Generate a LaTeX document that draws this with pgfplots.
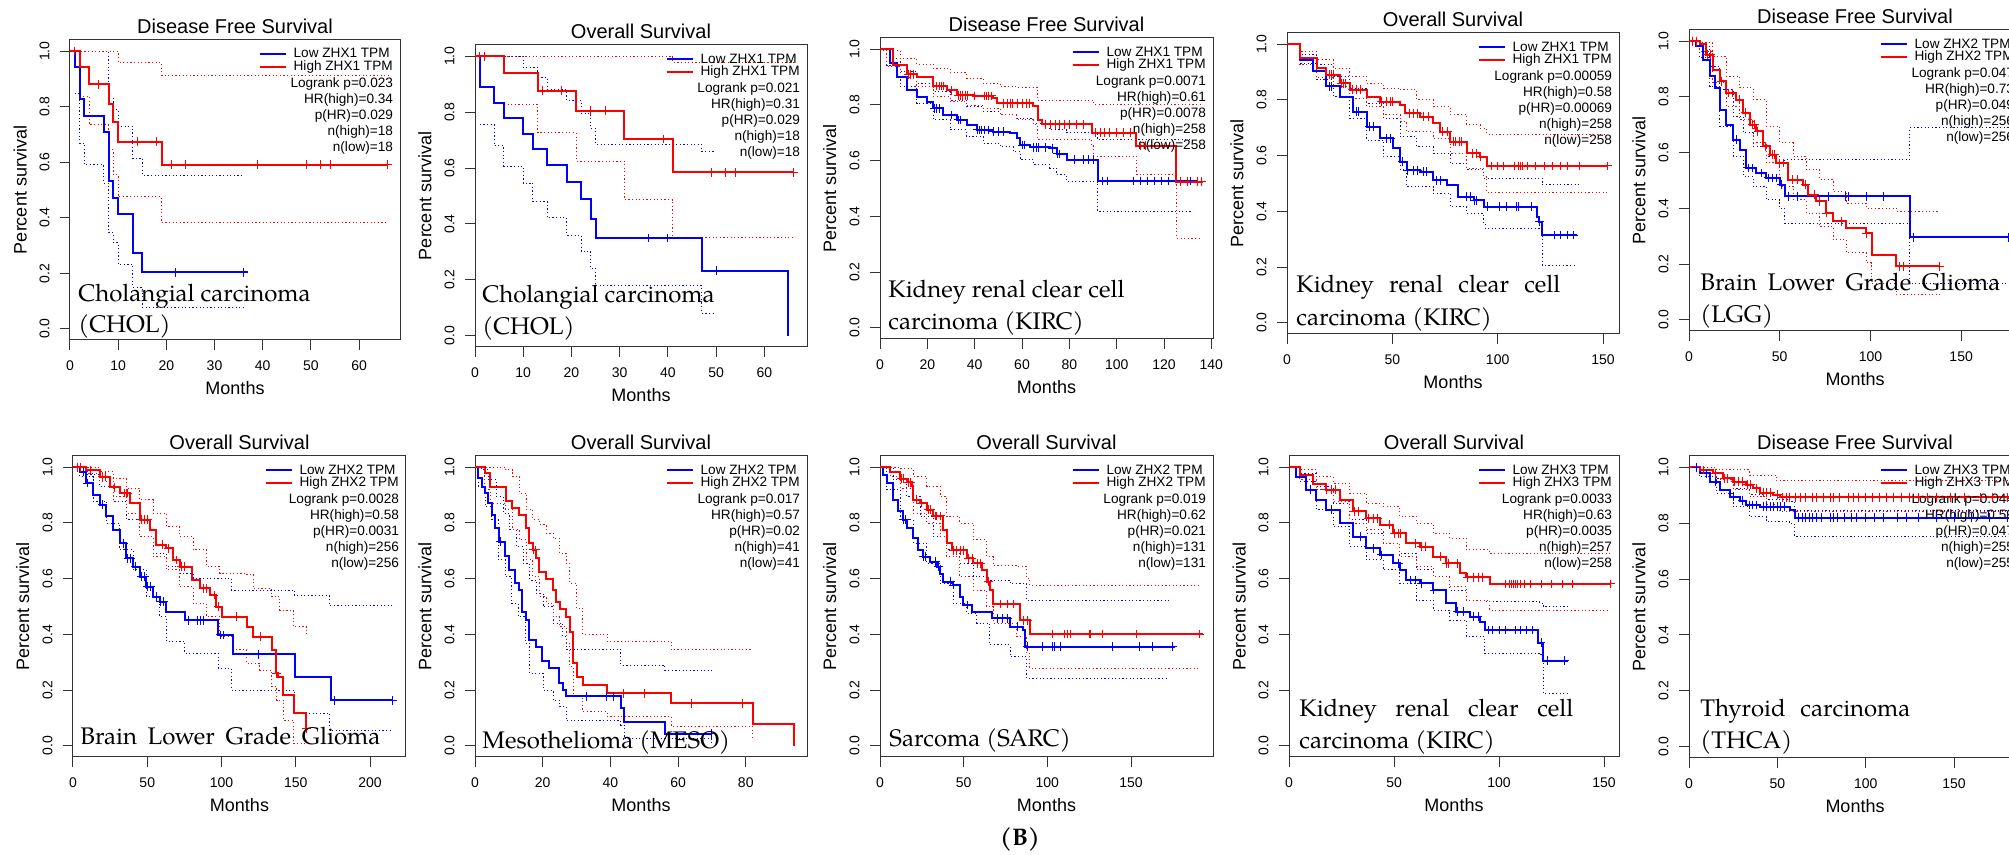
\documentclass[border=0pt]{standalone}
\usepackage{fontspec}
\setmainfont{Liberation Sans}
\newfontfamily\pal{texgyrepagella}[Extension=.otf, UprightFont=*-regular, BoldFont=*-bold]
\usepackage{pgfplots}
\pgfplotsset{compat=1.18}

\pgfplotsset{
  km/.style={
    scale only axis, anchor=south west,
    xmin=0, ymin=-0.04, ymax=1.04,
    ytick={0,0.2,0.4,0.6,0.8,1},
    /pgf/number format/assume math mode=true,
    yticklabel={\pgfmathprintnumber[fixed,fixed zerofill,precision=1]{\tick}},
    tick pos=left, tick align=outside, major tick length=5pt,
    axis line style={black!80, line width=0.5pt},
    every tick/.style={black!80, line width=0.5pt},
    tick label style={font=\fontsize{7}{8}\selectfont, inner sep=0pt},
    yticklabel style={rotate=90, anchor=south},
    xticklabel style={anchor=north},
    xticklabel shift=5pt, yticklabel shift=5pt,
    xlabel={Months}, ylabel={Percent survival},
    label style={font=\fontsize{9}{10}\selectfont},
    xlabel style={at={(axis description cs:0.5,0)}, anchor=center, yshift=-24pt},
    ylabel style={at={(axis description cs:-0.151,0.5)}, anchor=center},
    title style={at={(axis description cs:0.5,1)}, anchor=base, yshift=-2.6pt, font=\fontsize{10}{12}\selectfont},
    legend style={draw=none, fill=none, at={(0.979,0.974)}, anchor=north east, inner sep=0pt,
      font=\fontsize{6.8}{7}\selectfont, row sep=0pt,
      nodes={inner sep=0pt, text height=4.9pt, text depth=1.3pt},
      /tikz/every odd column/.append style={column sep=3.5pt}},
    legend cell align=left,
    legend image code/.code={\draw[#1, line width=1pt] (0pt,0pt) -- (13pt,0pt);},
  },
  lo/.style={blue, line width=1pt, const plot},
  hi/.style={red, line width=1pt, const plot},
  clo/.style={blue, line width=0.5pt, const plot, dash pattern=on 0.6pt off 1.2pt, forget plot},
  chi/.style={red, line width=0.5pt, const plot, dash pattern=on 0.6pt off 1.2pt, forget plot},
  mlo/.style={blue, only marks, mark=+, mark size=2.2pt, mark options={line width=0.5pt}, forget plot},
  mhi/.style={red, only marks, mark=+, mark size=2.2pt, mark options={line width=0.5pt}, forget plot},
}
\tikzset{
  stats/.style={anchor=north east, align=right, font=\fontsize{6.8}{8}\selectfont, inner sep=0pt},
  lab/.style={anchor=base west, inner sep=0pt, font=\pal\fontsize{12}{14}\selectfont},
}

\begin{document}
\begin{tikzpicture}
\useasboundingbox (0,0) rectangle (1004.5pt,427.5pt);
\clip (0,0) rectangle (1004.5pt,427.5pt);

% ---------- row 1 ----------
% CHOL DFS, ZHX1
\begin{axis}[km, at={(35pt,257.5pt)}, width=165pt, height=150pt, xmax=68.5,
  xtick={0,10,...,60}, title={Disease Free Survival},
  legend entries={Low ZHX1 TPM, High ZHX1 TPM}]
\addplot[clo] coordinates {(0,1)(8,0.83)(9,0.79)(10,0.73)(13,0.615)(15,0.553)(36,0.553)};
\addplot[clo] coordinates {(1,0.847)(2,0.668)(3,0.59)(7,0.525)(8,0.346)(9,0.31)(10,0.233)(13,0.15)(15,0.078)(36,0.078)};
\addplot[chi] coordinates {(0,1)(10,0.958)(19,0.913)(66,0.913)};
\addplot[chi] coordinates {(2,0.838)(4,0.734)(8,0.644)(9,0.555)(10,0.475)(19,0.382)(66,0.382)};
\addplot[lo] coordinates {(0,1)(1,0.944)(2,0.827)(3,0.766)(7,0.708)(8,0.531)(9,0.47)(10,0.412)(13,0.274)(15,0.203)(37,0.203)};
\addplot[hi] coordinates {(0,1)(2,0.944)(4,0.88)(8,0.81)(9,0.743)(10,0.674)(19,0.591)(66,0.591)};
\addplot[mlo] coordinates {(22,0.203)(36,0.203)};
\addplot[mhi] coordinates {(1,1)(6,0.88)(14,0.674)(18,0.674)(21,0.591)(24,0.591)(39,0.591)(49,0.591)(52,0.591)(54,0.591)(66,0.591)};
\node[stats] at (axis description cs:0.98,0.877) {Logrank p=0.023\\HR(high)=0.34\\p(HR)=0.029\\n(high)=18\\n(low)=18};
\end{axis}

% CHOL OS, ZHX1
\begin{axis}[km, at={(237.5pt,254pt)}, width=166pt, height=151pt, xmax=68.85,
  xtick={0,10,...,60}, title={Overall Survival},
  legend entries={Low ZHX1 TPM, High ZHX1 TPM}]
\addplot[clo] coordinates {(1,1)(10,0.96)(13,0.924)(15,0.88)(19,0.842)(22,0.795)(24,0.742)(25,0.685)(47,0.66)(49.5,0.66)};
\addplot[clo] coordinates {(1,0.755)(4,0.679)(6,0.607)(10,0.546)(12,0.48)(15,0.422)(19,0.36)(22,0.302)(24,0.241)(25,0.179)(47,0.081)(49.5,0.081)};
\addplot[chi] coordinates {(0,1)(41,0.977)(66,0.977)};
\addplot[chi] coordinates {(6,0.827)(13,0.726)(21,0.624)(31,0.487)(41,0.35)(66,0.35)};
\addplot[lo] coordinates {(0,1)(1,0.888)(4,0.834)(6,0.778)(10,0.722)(12,0.667)(15,0.612)(19,0.55)(22,0.489)(24,0.417)(25,0.35)(47,0.233)(65,0)};
\addplot[hi] coordinates {(0,1)(6,0.94)(13,0.876)(21,0.805)(31,0.704)(41,0.584)(66,0.584)};
\addplot[mlo] coordinates {(36,0.35)(40,0.35)(50,0.233)};
\addplot[mhi] coordinates {(1,1)(2,1)(14,0.876)(18,0.876)(24,0.805)(27,0.805)(39,0.704)(49,0.584)(52,0.584)(54,0.584)(66,0.584)};
\node[stats] at (axis description cs:0.98,0.877) {Logrank p=0.021\\HR(high)=0.31\\p(HR)=0.029\\n(high)=18\\n(low)=18};
\end{axis}

% KIRC DFS, ZHX1
\begin{axis}[km, at={(440pt,258pt)}, width=166.5pt, height=150.5pt, xmax=140.7,
  xtick={0,20,...,140}, title={Disease Free Survival},
  legend entries={Low ZHX1 TPM, High ZHX1 TPM}]
\addplot[clo] coordinates {(0,1)(2.8,0.967)(8.5,0.919)(15.5,0.877)(22.5,0.847)(29.6,0.817)(36.6,0.794)(43.7,0.776)(50.7,0.764)(57.7,0.752)(64.8,0.734)(71.8,0.71)(78.9,0.70)(92,0.674)(131.7,0.674)};
\addplot[clo] coordinates {(0,1)(2.8,0.943)(8.5,0.865)(15.5,0.805)(22.5,0.746)(29.6,0.71)(36.6,0.686)(43.7,0.662)(50.7,0.65)(56.3,0.632)(59.2,0.603)(64.8,0.585)(71.8,0.573)(74.6,0.549)(78.9,0.525)(92,0.418)(131.7,0.418)};
\addplot[chi] coordinates {(0,1)(1.4,0.996)(8.5,0.967)(15.5,0.946)(22.5,0.931)(29.6,0.915)(36.6,0.895)(43.7,0.877)(50.7,0.865)(57.7,0.863)(66.5,0.817)(90.1,0.803)(135.2,0.803)};
\addplot[chi] coordinates {(0,1)(2.8,0.937)(8.5,0.899)(15.5,0.865)(22.5,0.829)(29.6,0.811)(36.6,0.796)(43.7,0.788)(50.7,0.764)(57.7,0.746)(64.8,0.728)(66.5,0.677)(89.4,0.656)(90.1,0.615)(108.5,0.549)(125,0.543)(125.4,0.322)(135.2,0.322)};
\addplot[lo] coordinates {(0,1)(4.2,0.949)(7,0.90)(11.3,0.853)(15.5,0.83)(19.7,0.811)(22.5,0.788)(26.8,0.764)(32.4,0.746)(36.6,0.728)(40.8,0.71)(47.9,0.704)(54.9,0.698)(57.7,0.68)(59,0.656)(63.4,0.648)(71.8,0.644)(74.6,0.624)(78.9,0.603)(92,0.527)(133.8,0.527)};
\addplot[hi] coordinates {(0,1)(5.6,0.943)(11.3,0.91)(15.5,0.899)(22.5,0.868)(28.2,0.853)(32.4,0.835)(39.4,0.832)(47.9,0.823)(49.3,0.805)(64.8,0.796)(66.6,0.746)(68.3,0.73)(89.4,0.70)(108,0.653)(125,0.525)(136.6,0.525)};
\addplot[mlo] coordinates {(23,0.788)(24,0.788)(25,0.788)(30,0.764)(33,0.746)(34,0.746)(41,0.71)(42,0.71)(43,0.71)(44,0.71)(46,0.71)(48,0.704)(50,0.704)(52,0.704)(60,0.656)(61,0.656)(65,0.648)(66,0.648)(67,0.648)(70,0.648)(73,0.644)(75,0.624)(76,0.624)(82,0.603)(86,0.603)(88,0.603)(90,0.603)(94,0.527)(96,0.527)(107,0.527)(110,0.527)(113,0.527)(116,0.527)(119,0.527)(122,0.527)(127,0.527)(131,0.527)};
\addplot[mhi] coordinates {(12,0.91)(13,0.91)(14,0.91)(24,0.868)(25,0.868)(26,0.868)(27,0.868)(30,0.853)(33,0.835)(34,0.835)(35,0.835)(36,0.835)(37,0.835)(40,0.832)(44,0.832)(45,0.832)(46,0.832)(47,0.832)(52,0.805)(54,0.805)(55,0.805)(56,0.805)(58,0.805)(60,0.805)(62,0.805)(63,0.805)(70,0.73)(72,0.73)(74,0.73)(76,0.73)(78,0.73)(80,0.73)(83,0.73)(86,0.73)(91,0.70)(93,0.70)(95,0.70)(97,0.70)(100,0.70)(103,0.70)(106,0.70)(110,0.653)(112,0.653)(127,0.525)(130,0.525)(134,0.525)(136,0.525)};
\node[stats] at (axis description cs:0.98,0.877) {Logrank p=0.0071\\HR(high)=0.61\\p(HR)=0.0078\\n(high)=258\\n(low)=258};
\end{axis}

% KIRC OS, ZHX1
\begin{axis}[km, at={(643.5pt,260.5pt)}, width=166pt, height=150.5pt, xmax=157.6,
  xtick={0,50,100,150}, title={Overall Survival},
  legend entries={Low ZHX1 TPM, High ZHX1 TPM}]
\addplot[clo] coordinates {(0,1)(6,0.962)(14,0.926)(21.9,0.884)(29.8,0.842)(37.8,0.788)(45.7,0.734)(53.7,0.668)(61.6,0.632)(69.5,0.608)(77.5,0.572)(85.4,0.549)(93.3,0.519)(121.1,0.495)(139.4,0.495)};
\addplot[clo] coordinates {(0,1)(6,0.932)(14,0.872)(21.9,0.812)(29.8,0.734)(37.8,0.656)(45.7,0.596)(53.7,0.549)(56.8,0.489)(69.5,0.465)(77.5,0.417)(85.4,0.393)(93.3,0.357)(94.1,0.339)(121.1,0.207)(136.2,0.207)};
\addplot[chi] coordinates {(0,1)(6,0.974)(14,0.944)(21.9,0.914)(29.8,0.884)(37.8,0.86)(45.7,0.842)(53.7,0.836)(61.6,0.80)(69.5,0.776)(77.5,0.746)(85.4,0.71)(91.7,0.698)(94.9,0.677)(152,0.677)};
\addplot[chi] coordinates {(0,1)(6,0.926)(14,0.879)(21.9,0.848)(29.8,0.806)(37.8,0.776)(45.7,0.746)(53.7,0.722)(56.8,0.686)(69.5,0.662)(77.5,0.608)(85.4,0.554)(93.3,0.525)(94.9,0.467)(152,0.467)};
\addplot[lo] coordinates {(0,1)(6,0.944)(12.4,0.902)(18.7,0.848)(25.1,0.812)(31.4,0.758)(37.8,0.704)(44.1,0.662)(50.5,0.626)(53.7,0.578)(56.8,0.548)(63.2,0.542)(69.5,0.512)(75.9,0.495)(81.4,0.453)(88.6,0.44)(93.3,0.417)(118.7,0.381)(119.5,0.363)(121,0.315)(137.8,0.315)};
\addplot[hi] coordinates {(0,1)(6,0.95)(14,0.914)(18.7,0.89)(25.1,0.86)(29.8,0.836)(37.8,0.812)(44.1,0.794)(53.7,0.782)(56,0.752)(63.2,0.74)(69.5,0.716)(72.7,0.686)(77.5,0.65)(85.4,0.608)(91.7,0.596)(94.9,0.563)(152,0.563)};
\addplot[mlo] coordinates {(20,0.848)(21,0.848)(33,0.758)(34,0.758)(39,0.704)(41,0.704)(47,0.662)(49,0.662)(55,0.578)(57,0.548)(60,0.548)(62,0.548)(65,0.542)(66,0.542)(71,0.512)(73,0.512)(85,0.453)(87,0.453)(89,0.44)(90,0.44)(95,0.417)(101,0.417)(104,0.417)(109,0.417)(110,0.417)(116,0.417)(120,0.363)(127,0.315)(130,0.315)(133,0.315)(136,0.315)};
\addplot[mhi] coordinates {(20,0.89)(21,0.89)(22,0.89)(26,0.86)(27,0.86)(28,0.86)(31,0.836)(33,0.836)(35,0.836)(45,0.794)(47,0.794)(49,0.794)(50,0.794)(58,0.752)(60,0.752)(62,0.752)(65,0.74)(67,0.74)(74,0.686)(76,0.686)(79,0.65)(80,0.65)(82,0.65)(83,0.65)(88,0.608)(90,0.608)(92,0.596)(97,0.563)(100,0.563)(103,0.563)(108,0.563)(110,0.563)(111,0.563)(112,0.563)(114,0.563)(118,0.563)(122,0.563)(126,0.563)(130,0.563)(133,0.563)(139,0.563)(152,0.563)};
\node[stats] at (axis description cs:0.98,0.877) {Logrank p=0.00059\\HR(high)=0.58\\p(HR)=0.00069\\n(high)=258\\n(low)=258};
\end{axis}

% LGG DFS, ZHX2
\begin{axis}[km, at={(844.5pt,262pt)}, width=166pt, height=150.5pt, xmax=183,
  xtick={0,50,100,150}, title={Disease Free Survival},
  legend entries={Low ZHX2 TPM, High ZHX2 TPM}]
\addplot[clo] coordinates {(0,1)(5.9,0.982)(11.4,0.91)(16.9,0.826)(24.3,0.731)(29.8,0.671)(35.3,0.623)(42.6,0.587)(50,0.563)(52.8,0.575)(121.7,0.689)(178,0.689)};
\addplot[clo] coordinates {(0,1)(5.9,0.94)(11.4,0.838)(16.9,0.695)(24.3,0.587)(29.8,0.515)(35.3,0.479)(42.6,0.431)(50,0.401)(52.8,0.347)(121.7,0.132)(178,0.132)};
\addplot[chi] coordinates {(0,1)(5.9,0.994)(13.2,0.946)(20.6,0.874)(27.9,0.832)(35.3,0.79)(42.6,0.695)(50,0.635)(57.4,0.587)(64.7,0.539)(72.1,0.503)(79.4,0.461)(86.8,0.419)(97.8,0.401)(114.3,0.389)(138.2,0.389)};
\addplot[chi] coordinates {(0,1)(5.9,0.964)(13.2,0.85)(20.6,0.766)(27.9,0.719)(35.3,0.635)(42.6,0.563)(50,0.479)(57.4,0.431)(64.7,0.383)(72.1,0.335)(79.4,0.287)(86.8,0.24)(97.8,0.204)(100.6,0.132)(114.3,0.09)(138.2,0.09)};
\addplot[lo] coordinates {(0,1)(4,0.982)(7.7,0.934)(11.4,0.874)(14.2,0.832)(16.9,0.754)(20.6,0.70)(24.3,0.647)(27.9,0.611)(31.6,0.545)(37.1,0.527)(42.6,0.509)(50,0.485)(52.8,0.443)(121.7,0.296)(180,0.296)};
\addplot[hi] coordinates {(0,1)(5.9,0.988)(9.6,0.952)(13.2,0.898)(16.9,0.856)(20.6,0.814)(26.1,0.79)(29.8,0.743)(33.5,0.70)(37.1,0.677)(40.8,0.623)(44.5,0.593)(48.2,0.563)(54.6,0.503)(62.9,0.485)(65.6,0.449)(70.2,0.425)(75.7,0.383)(79.4,0.353)(86.8,0.329)(97.8,0.311)(100.6,0.234)(114.3,0.192)(138.2,0.192)};
\addplot[mlo] coordinates {(26,0.647)(33,0.545)(35,0.545)(40,0.527)(44,0.509)(46,0.509)(48,0.509)(51,0.485)(55,0.443)(60,0.443)(77,0.443)(86,0.443)(88,0.443)(98,0.443)(107,0.443)(124,0.296)(176,0.296)};
\addplot[mhi] coordinates {(2,1)(4,1)(10,0.952)(12,0.952)(18,0.856)(22,0.814)(24,0.814)(28,0.79)(31,0.743)(35,0.70)(36,0.70)(38,0.677)(42,0.623)(46,0.593)(47,0.593)(50,0.563)(52,0.563)(57,0.503)(60,0.503)(64,0.485)(69,0.449)(72,0.425)(76,0.383)(84,0.353)(98,0.311)(116,0.192)(118,0.192)(138,0.192)};
\node[stats] at (axis description cs:0.98,0.877) {Logrank p=0.047\\HR(high)=0.73\\p(HR)=0.049\\n(high)=256\\n(low)=256};
\end{axis}

% ---------- row 2 ----------
% LGG OS, ZHX2
\begin{axis}[km, at={(36.5pt,49pt)}, width=166.5pt, height=150.5pt, xmax=224.2,
  xtick={0,50,...,200}, title={Overall Survival},
  legend entries={Low ZHX2 TPM, High ZHX2 TPM}]
\addplot[clo] coordinates {(0,1)(9,0.972)(18,0.931)(27,0.877)(36,0.811)(44.9,0.751)(53.9,0.691)(62.9,0.643)(71.9,0.619)(80.9,0.601)(97.8,0.601)(106.7,0.559)(149.4,0.538)(173,0.502)(214.6,0.502)};
\addplot[clo] coordinates {(0,1)(4.5,0.966)(13.5,0.877)(22.5,0.799)(31.5,0.703)(40.4,0.631)(49.4,0.535)(58.4,0.463)(62.9,0.374)(75.3,0.332)(97.8,0.278)(106.7,0.2)(149.4,0.116)(173,0.056)(214.6,0.056)};
\addplot[chi] coordinates {(0,1)(18,0.984)(27,0.96)(36,0.925)(44.9,0.883)(53.9,0.835)(62.9,0.787)(71.9,0.751)(80.9,0.703)(89.9,0.643)(98.9,0.619)(116.9,0.613)(121.3,0.565)(133.7,0.535)(139.3,0.487)(148.3,0.428)(157.3,0.404)};
\addplot[chi] coordinates {(0,1)(9,0.978)(18,0.949)(27,0.895)(36,0.835)(44.9,0.751)(53.9,0.679)(62.9,0.631)(71.9,0.571)(80.9,0.511)(89.9,0.463)(98.9,0.392)(107.9,0.344)(116.9,0.296)(125.8,0.272)(133.7,0.212)(137.1,0.164)(141.6,0.092)(148.3,0.008)(157.3,0.008)};
\addplot[lo] coordinates {(0,1)(4.5,0.984)(9,0.943)(13.5,0.90)(18,0.865)(22.5,0.823)(27,0.775)(31.5,0.727)(36,0.673)(40.4,0.643)(45,0.607)(49.4,0.571)(53.9,0.535)(58.4,0.517)(62.9,0.481)(75.3,0.451)(97.8,0.398)(107.9,0.329)(149.4,0.248)(173.5,0.164)(215.7,0.164)};
\addplot[hi] coordinates {(0,1)(9,0.99)(18,0.966)(24.7,0.928)(31.5,0.907)(38.2,0.871)(44.9,0.811)(51.7,0.775)(56.2,0.721)(62.9,0.709)(67.4,0.667)(71.9,0.643)(79.8,0.595)(85.4,0.565)(92.1,0.541)(96.6,0.499)(100,0.463)(116.9,0.428)(121.3,0.392)(133.7,0.344)(136.6,0.26)(138.2,0.248)(141.1,0.182)(149,0.119)(156.9,0.062)(158.4,0.062)};
\addplot[mlo] coordinates {(7,0.984)(10,0.943)(20,0.865)(34,0.727)(37,0.673)(39,0.673)(42,0.643)(46,0.607)(48,0.607)(50,0.571)(52,0.571)(56,0.535)(59,0.517)(61,0.517)(78,0.451)(84,0.451)(86,0.451)(88,0.451)(99,0.398)(101,0.398)(125,0.329)(176,0.164)(215,0.164)};
\addplot[mhi] coordinates {(3,1)(5,1)(12,0.99)(20,0.966)(22,0.966)(28,0.928)(35,0.907)(36,0.907)(37,0.907)(46,0.811)(48,0.811)(50,0.811)(60,0.721)(64,0.709)(70,0.667)(73,0.643)(75,0.643)(88,0.565)(90,0.565)(95,0.541)(98,0.499)(110,0.463)(126,0.392)(137,0.26)(157,0.062)};
\node[stats] at (axis description cs:0.98,0.877) {Logrank p=0.0028\\HR(high)=0.58\\p(HR)=0.0031\\n(high)=256\\n(low)=256};
\end{axis}

% MESO OS, ZHX2
\begin{axis}[km, at={(237.5pt,49pt)}, width=166pt, height=150.5pt, xmax=98.1,
  xtick={0,20,...,80}, title={Overall Survival},
  legend entries={Low ZHX2 TPM, High ZHX2 TPM}]
\addplot[clo] coordinates {(0,1)(2,0.99)(3.9,0.954)(6.3,0.895)(8.3,0.835)(10.2,0.775)(12.2,0.715)(14.2,0.655)(16.2,0.595)(18.1,0.547)(20.1,0.499)(23.1,0.44)(26,0.392)(27,0.346)(43.1,0.29)(56.1,0.272)(69.9,0.272)};
\addplot[clo] coordinates {(0,1)(1,0.931)(3,0.859)(4.9,0.811)(6.9,0.667)(8.9,0.607)(10.8,0.511)(12.8,0.463)(14.8,0.368)(16.2,0.26)(20.1,0.2)(23.1,0.164)(25,0.14)(27,0.09)(43.1,0.074)(44.1,0.026)(69.9,0.008)};
\addplot[chi] coordinates {(0,1)(9.1,0.99)(11.2,0.966)(13.2,0.907)(15.2,0.847)(17.1,0.811)(19.1,0.793)(21.1,0.763)(23.1,0.745)(25,0.691)(27,0.655)(28,0.583)(30,0.493)(31.9,0.401)(39.1,0.374)(58,0.344)(82,0.344)};
\addplot[chi] coordinates {(0,1)(2.9,0.919)(4.5,0.871)(9.1,0.847)(11.2,0.775)(13.2,0.739)(15.2,0.667)(17.1,0.607)(19.1,0.535)(21.1,0.511)(23.1,0.463)(25,0.428)(27,0.368)(28,0.284)(29,0.176)(31.9,0.122)(39.1,0.104)(58,0.071)(82,0.026)};
\addplot[lo] coordinates {(0,1)(1,0.96)(2,0.93)(3,0.907)(3.9,0.871)(4.9,0.829)(6,0.781)(7,0.733)(9,0.681)(10,0.631)(11.9,0.583)(12.9,0.559)(14,0.481)(15,0.451)(16,0.38)(17.9,0.353)(19.9,0.305)(22,0.278)(24.9,0.224)(26,0.2)(27,0.178)(43,0.134)(44,0.086)(56,0.044)(69.9,0.044)};
\addplot[hi] coordinates {(0,1)(2.9,0.978)(4.5,0.928)(9.1,0.88)(10.9,0.855)(12.9,0.829)(15,0.781)(16.1,0.729)(17,0.703)(18,0.673)(19,0.625)(21.1,0.599)(23.1,0.559)(24,0.517)(25,0.491)(27,0.463)(28,0.41)(29,0.296)(30,0.248)(31.9,0.218)(39.1,0.188)(58,0.152)(82,0.077)(94.2,0)};
\addplot[mlo] coordinates {(7.6,0.733)(33,0.178)(39,0.178)(41,0.178)(70,0.044)};
\addplot[mhi] coordinates {(17.3,0.703)(17.8,0.703)(44,0.188)(50,0.188)(64,0.152)(79,0.152)};
\node[stats] at (axis description cs:0.98,0.877) {Logrank p=0.017\\HR(high)=0.57\\p(HR)=0.02\\n(high)=41\\n(low)=41};
\end{axis}

% SARC OS, ZHX2
\begin{axis}[km, at={(440pt,49pt)}, width=166.5pt, height=150.5pt, xmax=199,
  xtick={0,50,100,150}, title={Overall Survival},
  legend entries={Low ZHX2 TPM, High ZHX2 TPM}]
\addplot[clo] coordinates {(0,1)(8,0.955)(15.9,0.895)(23.9,0.823)(31.9,0.751)(39.8,0.703)(47.8,0.655)(55.8,0.607)(63.7,0.595)(77.7,0.583)(87.6,0.523)(172.3,0.523)};
\addplot[clo] coordinates {(0,1)(4,0.919)(12,0.811)(19.9,0.727)(27.9,0.655)(35.9,0.583)(43.8,0.511)(51.8,0.475)(57.8,0.44)(65.7,0.362)(77.7,0.32)(87.6,0.242)(172.3,0.242)};
\addplot[chi] coordinates {(0,1)(12,0.996)(19.9,0.966)(27.9,0.931)(35.9,0.895)(39.8,0.823)(47.8,0.799)(55.8,0.739)(63.7,0.679)(67.7,0.646)(81.7,0.643)(87.6,0.601)(89.6,0.577)(190.2,0.577)};
\addplot[chi] coordinates {(0,1)(6,0.966)(12,0.925)(19.9,0.835)(27.9,0.799)(35.9,0.751)(39.8,0.679)(47.8,0.607)(55.8,0.559)(63.7,0.499)(67.7,0.44)(81.7,0.392)(87.6,0.332)(89.6,0.278)(190.2,0.278)};
\addplot[lo] coordinates {(0,1)(2,0.972)(4,0.943)(8,0.883)(11,0.841)(13.9,0.811)(15.9,0.781)(19.9,0.745)(22.9,0.703)(25.9,0.679)(29.9,0.661)(33.9,0.643)(35.9,0.617)(37.8,0.589)(43.8,0.577)(47.8,0.535)(49.8,0.505)(54.8,0.481)(66.7,0.457)(77.7,0.428)(85.7,0.416)(86.7,0.356)(176.3,0.356)};
\addplot[hi] coordinates {(0,1)(6,0.984)(12,0.958)(15.9,0.945)(18.9,0.931)(19.9,0.883)(23.9,0.871)(27.9,0.847)(31.9,0.825)(37.8,0.775)(39.8,0.727)(42.8,0.701)(51.8,0.673)(55.8,0.655)(60.8,0.631)(63.7,0.589)(65.7,0.559)(67.7,0.509)(83.7,0.451)(89.6,0.401)(193.2,0.401)};
\addplot[mlo] coordinates {(14,0.811)(15,0.811)(26,0.679)(27,0.679)(33,0.661)(35,0.643)(42,0.589)(44,0.577)(52,0.505)(70,0.457)(73,0.457)(76,0.457)(82,0.428)(88,0.356)(97,0.356)(103,0.356)(104,0.356)(108,0.356)(139,0.356)(155,0.356)(163,0.356)(175,0.356)};
\addplot[mhi] coordinates {(13,0.958)(14,0.958)(17,0.945)(18,0.945)(22,0.883)(25,0.871)(29,0.847)(30,0.847)(33,0.825)(34,0.825)(36,0.825)(44,0.701)(46,0.701)(48,0.701)(50,0.701)(53,0.673)(55,0.673)(58,0.655)(60,0.655)(65,0.589)(72,0.509)(76,0.509)(80,0.509)(86,0.451)(88,0.451)(103,0.401)(110,0.401)(112,0.401)(114,0.401)(125,0.401)(126,0.401)(133,0.401)(153,0.401)(191,0.401)};
\node[stats] at (axis description cs:0.98,0.877) {Logrank p=0.019\\HR(high)=0.62\\p(HR)=0.021\\n(high)=131\\n(low)=131};
\end{axis}

% KIRC OS, ZHX3
\begin{axis}[km, at={(644.5pt,49pt)}, width=165pt, height=150.5pt, xmax=157.1,
  xtick={0,50,100,150}, title={Overall Survival},
  legend entries={Low ZHX3 TPM, High ZHX3 TPM}]
\addplot[clo] coordinates {(0,1)(5.1,0.978)(13,0.931)(21,0.871)(28.9,0.811)(36.8,0.763)(44.8,0.727)(52.7,0.691)(60.6,0.631)(68.6,0.607)(76.5,0.559)(84.4,0.523)(93.2,0.517)(119.4,0.511)(121,0.499)(132.9,0.499)};
\addplot[clo] coordinates {(0,1)(5.1,0.949)(13,0.847)(21,0.787)(28.9,0.715)(36.8,0.667)(44.8,0.631)(52.7,0.583)(60.6,0.523)(68.6,0.487)(76.5,0.451)(84.4,0.392)(93.2,0.332)(119.4,0.326)(121,0.188)(132.9,0.188)};
\addplot[chi] coordinates {(0,1)(5.1,0.99)(13,0.966)(21,0.943)(28.9,0.907)(36.8,0.871)(44.8,0.859)(52.7,0.823)(60.6,0.799)(68.6,0.763)(76.5,0.745)(84.4,0.703)(95.6,0.689)(152.7,0.689)};
\addplot[chi] coordinates {(0,1)(5.1,0.954)(13,0.919)(21,0.877)(28.9,0.799)(36.8,0.775)(44.8,0.727)(52.7,0.679)(60.6,0.643)(68.6,0.607)(76.5,0.571)(84.4,0.523)(95.6,0.487)(152.7,0.487)};
\addplot[lo] coordinates {(0,1)(3.5,0.966)(8.3,0.919)(13,0.883)(17.8,0.847)(24.1,0.799)(30.5,0.751)(36.8,0.709)(43.2,0.685)(49.5,0.655)(52.7,0.631)(55.9,0.595)(62.2,0.583)(68.6,0.559)(74.9,0.511)(79.7,0.481)(86,0.463)(90.8,0.445)(93.2,0.416)(118.6,0.37)(121,0.305)(132.9,0.305)};
\addplot[hi] coordinates {(0,1)(5.1,0.972)(11.4,0.94)(17.8,0.919)(24.1,0.883)(30.5,0.841)(36.8,0.817)(43.2,0.793)(49.5,0.763)(55.9,0.727)(62.2,0.715)(68.6,0.679)(74.9,0.655)(81.3,0.619)(84.4,0.605)(95.6,0.581)(153.5,0.581)};
\addplot[mlo] coordinates {(10,0.919)(20,0.847)(34,0.751)(40,0.709)(44,0.685)(52,0.655)(58,0.595)(60,0.595)(63,0.583)(69,0.559)(80,0.481)(83,0.481)(88,0.463)(90,0.463)(95,0.416)(97,0.416)(100,0.416)(103,0.416)(108,0.416)(110,0.416)(113,0.416)(116,0.416)(120,0.37)(123,0.305)(131,0.305)};
\addplot[mhi] coordinates {(18,0.919)(20,0.919)(22,0.919)(31,0.841)(33,0.841)(38,0.817)(40,0.817)(42,0.817)(48,0.793)(50,0.763)(52,0.763)(53,0.763)(60,0.727)(63,0.715)(65,0.715)(72,0.679)(75,0.655)(76,0.655)(80,0.655)(85,0.605)(88,0.605)(90,0.605)(92,0.605)(103,0.581)(105,0.581)(106,0.581)(107,0.581)(108,0.581)(109,0.581)(110,0.581)(112,0.581)(115,0.581)(120,0.581)(125,0.581)(130,0.581)(135,0.581)(153,0.581)};
\node[stats] at (axis description cs:0.98,0.877) {Logrank p=0.0033\\HR(high)=0.63\\p(HR)=0.0035\\n(high)=257\\n(low)=258};
\end{axis}

% THCA DFS, ZHX3
\begin{axis}[km, at={(844.5pt,48.5pt)}, width=166pt, height=151pt, xmax=187.9,
  xtick={0,50,100,150}, title={Disease Free Survival},
  legend entries={Low ZHX3 TPM, High ZHX3 TPM}]
\addplot[clo] coordinates {(0,1)(6,0.99)(15.5,0.96)(24.9,0.925)(34.3,0.901)(43.8,0.885)(57,0.877)(59.8,0.844)(182,0.844)};
\addplot[clo] coordinates {(0,1)(6,0.966)(15.5,0.907)(24.9,0.859)(34.3,0.823)(43.8,0.805)(57,0.799)(59.8,0.753)(182,0.753)};
\addplot[chi] coordinates {(0,1)(15.5,0.99)(34.3,0.972)(49.4,0.951)(182,0.951)};
\addplot[chi] coordinates {(0,1)(6,0.978)(15.5,0.955)(24.9,0.919)(34.3,0.895)(43.8,0.865)(51.3,0.843)(182,0.843)};
\addplot[lo] coordinates {(0,1)(6,0.978)(11.7,0.948)(17.4,0.919)(23,0.895)(28.7,0.88)(32.5,0.865)(40,0.859)(57,0.847)(59.8,0.82)(182,0.82)};
\addplot[hi] coordinates {(0,1)(6,0.99)(13.6,0.978)(19.2,0.96)(24.9,0.948)(32.5,0.937)(36.2,0.925)(40,0.909)(47.5,0.901)(51.3,0.892)(182,0.892)};
\addplot[mlo] coordinates {(4,1)(10,0.978)(15,0.948)(25,0.895)(30,0.88)(34,0.865)(36,0.865)(38,0.865)(42,0.859)(44,0.859)(46,0.859)(48,0.859)(50,0.859)(52,0.859)(54,0.859)(62,0.82)(64,0.82)(66,0.82)(68,0.82)(70,0.82)(72,0.82)(75,0.82)(80,0.82)(82,0.82)(84,0.82)(88,0.82)(92,0.82)(95,0.82)(100,0.82)(105,0.82)(110,0.82)(118,0.82)(123,0.82)(130,0.82)(140,0.82)(150,0.82)(160,0.82)(170,0.82)(180,0.82)};
\addplot[mhi] coordinates {(8,0.99)(15,0.978)(20,0.96)(22,0.96)(26,0.948)(28,0.948)(30,0.948)(33,0.937)(35,0.937)(38,0.925)(42,0.909)(44,0.909)(46,0.909)(50,0.901)(53,0.892)(55,0.892)(57,0.892)(60,0.892)(63,0.892)(66,0.892)(70,0.892)(72,0.892)(76,0.892)(80,0.892)(82,0.892)(85,0.892)(90,0.892)(93,0.892)(96,0.892)(100,0.892)(104,0.892)(108,0.892)(112,0.892)(116,0.892)(120,0.892)(125,0.892)(130,0.892)(135,0.892)(140,0.892)(148,0.892)(156,0.892)(165,0.892)(172,0.892)(180,0.892)};
\node[stats] at (axis description cs:0.98,0.877) {Logrank p=0.044\\HR(high)=0.59\\p(HR)=0.047\\n(high)=255\\n(low)=255};
\end{axis}

% ---------- cancer labels ----------
\node[lab] at (39pt,276.5pt) {Cholangial carcinoma};
\node[lab] at (39pt,261pt) {(CHOL)};
\node[lab] at (241pt,276pt) {Cholangial carcinoma};
\node[lab] at (241pt,260pt) {(CHOL)};
\node[lab] at (444pt,278.5pt) {Kidney renal clear cell};
\node[lab] at (444pt,262.5pt) {carcinoma (KIRC)};
\node[lab] at (648pt,281pt) {\hbox to 132pt{Kidney\hfill renal\hfill clear\hfill cell}};
\node[lab] at (648pt,264.5pt) {carcinoma (KIRC)};
\node[lab] at (850pt,282pt) {\hbox to 150pt{Brain\hfill Lower\hfill Grade\hfill Glioma}};
\node[lab] at (850pt,266pt) {(LGG)};
\node[lab] at (40pt,55pt) {\hbox to 150pt{Brain\hfill Lower\hfill Grade\hfill Glioma}};
\node[lab] at (241pt,53pt) {Mesothelioma (MESO)};
\node[lab] at (444.5pt,54pt) {Sarcoma (SARC)};
\node[lab] at (649.5pt,69pt) {\hbox to 137pt{Kidney\hfill renal\hfill clear\hfill cell}};
\node[lab] at (649.5pt,53pt) {carcinoma (KIRC)};
\node[lab] at (850pt,69pt) {\hbox to 105pt{Thyroid\hfill carcinoma}};
\node[lab] at (850pt,53pt) {(THCA)};

\node[font=\pal\bfseries\fontsize{12}{14}\selectfont, inner sep=0pt] at (510pt,7.5pt) {(B)};
\end{tikzpicture}
\end{document}
